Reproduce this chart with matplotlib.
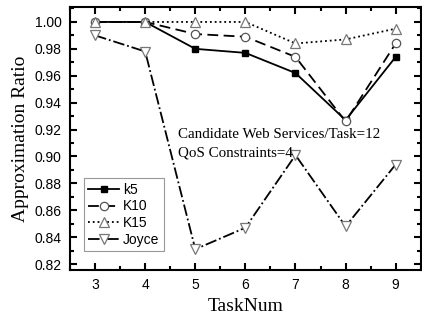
import numpy as np
import matplotlib.pyplot as plt

task_num = [3, 4, 5, 6, 7, 8, 9]
k5 = [1.000, 1.000, 0.980, 0.977, 0.962, 0.927, 0.974]
k10 = [1.000, 1.000, 0.991, 0.989, 0.974, 0.926, 0.984]
k15 = [1.000, 1.000, 1.000, 1.000, 0.984, 0.987, 0.995]
joyce = [0.990, 0.978, 0.831, 0.847, 0.901, 0.848, 0.894]

fig = plt.figure(figsize=(4.22, 3.25), dpi=100)
ax = fig.add_axes([0.166, 0.169, 0.831, 0.809])

ax.plot(task_num, k5, '-', color='black', lw=1.3, marker='s', ms=5,
        mfc='black', mec='black', label='k5')
ax.plot(task_num, k10, '--', color='black', lw=1.3, dashes=(6, 3), marker='o', ms=6,
        mfc='white', mec='#555555', mew=0.9, label='K10')
ax.plot(task_num, k15, ':', color='black', lw=1.3, marker='^', ms=7,
        mfc='white', mec='#777777', mew=0.9, label='K15')
ax.plot(task_num, joyce, '-.', color='black', lw=1.3, marker='v', ms=7,
        mfc='white', mec='#777777', mew=0.9, label='Joyce')

ax.set_xlim(2.5, 9.5)
ax.set_ylim(0.8155, 1.011)
ax.set_xticks(task_num)
ax.set_xticks(np.arange(2.5, 9.6, 0.5), minor=True)
ax.set_yticks(np.arange(0.82, 1.001, 0.02))
ax.set_yticks(np.arange(0.82, 1.011, 0.01), minor=True)
ax.set_yticklabels(['%.2f' % v for v in np.arange(0.82, 1.001, 0.02)])
ax.tick_params(which='both', direction='in', top=True, right=True, width=1.5)
ax.tick_params(which='major', length=5, labelsize=10, pad=6)
ax.tick_params(which='minor', length=3)
for lab in ax.get_xticklabels() + ax.get_yticklabels():
    lab.set_family('Liberation Sans')
for s in ax.spines.values():
    s.set_linewidth(1.5)

ax.set_xlabel('TaskNum', family='Liberation Serif', fontsize=14)
ax.set_ylabel('Approximation Ratio', family='Liberation Serif', fontsize=14)

ax.text(4.65, 0.9164, 'Candidate Web Services/Task=12', family='Liberation Serif',
        fontsize=10.8, va='center')
ax.text(4.65, 0.9029, 'QoS Constraints=4', family='Liberation Serif',
        fontsize=10.8, va='center')

leg = ax.legend(loc='lower left', bbox_to_anchor=(0.04, 0.072), borderaxespad=0,
                prop={'family': 'Liberation Sans', 'size': 10}, handlelength=2.2,
                handletextpad=0.3, borderpad=0.3, labelspacing=0.2,
                fancybox=False, edgecolor='#999999', framealpha=1)
leg.get_frame().set_linewidth(0.8)

fig.savefig('out.png', dpi=100)
